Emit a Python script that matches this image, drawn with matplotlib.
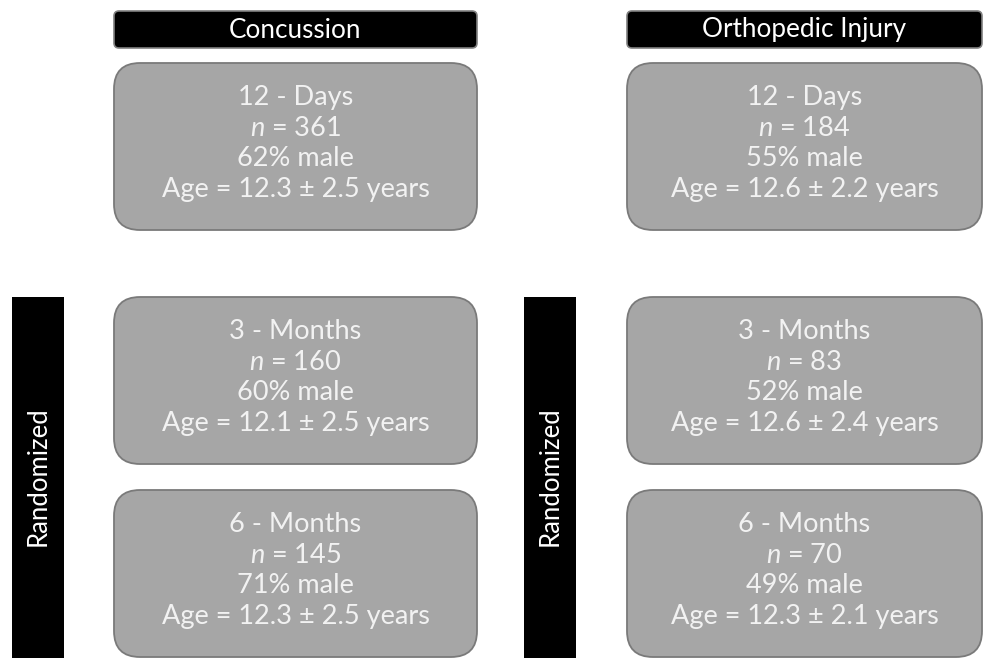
import matplotlib.pyplot as plt
from matplotlib.patches import FancyBboxPatch, Rectangle

plt.rcParams['font.family'] = ['Lato', 'DejaVu Sans']
plt.rcParams['mathtext.fontset'] = 'custom'
plt.rcParams['mathtext.it'] = 'Lato:italic'
plt.rcParams['mathtext.rm'] = 'Lato'

# study groups and follow-up data
groups = ['Concussion', 'Orthopedic Injury']
timepoints = ['12 - Days', '3 - Months', '6 - Months']
n_values = [[361, 160, 145], [184, 83, 70]]
pct_male = [[62, 60, 71], [55, 52, 49]]
age_mean = [[12.3, 12.1, 12.3], [12.6, 12.6, 12.3]]
age_sd = [[2.5, 2.5, 2.5], [2.2, 2.4, 2.1]]
side_label = 'Randomized'

fig = plt.figure(figsize=(9.83, 6.58), dpi=100)
ax = fig.add_axes([0, 0, 1, 1])
ax.set_xlim(0, 983)
ax.set_ylim(658, 0)
ax.axis('off')

col_x = [114, 627]
col_w = [363, 355]
box_tops = [63, 297, 490]
box_h = 167
bar_x = [12, 524]
txt_col = '#f2f2f2'

for g, gname in enumerate(groups):
    x0 = col_x[g]
    box_w = col_w[g]
    # header
    ax.add_patch(FancyBboxPatch((x0, 11), box_w, 37,
                                boxstyle='round,pad=0,rounding_size=5',
                                fc='black', ec='#808080', lw=1.2))
    ax.text(x0 + box_w / 2, 30, gname, color='white', fontsize=18.8,
            ha='center', va='center')
    # randomized bar
    ax.add_patch(Rectangle((bar_x[g], 297), 52, 361, fc='black', ec='none'))
    ax.text(bar_x[g] + 26, 476, side_label, color='white', fontsize=18.5,
            rotation=90, ha='center', va='center')
    for t, tname in enumerate(timepoints):
        top = box_tops[t]
        ax.add_patch(FancyBboxPatch((x0, top), box_w, box_h,
                                    boxstyle='round,pad=0,rounding_size=26',
                                    fc='#a6a6a6', ec='#7a7a7a', lw=1.3))
        lines = [tname,
                 r'$\it{n}$ = %d' % n_values[g][t],
                 '%d%% male' % pct_male[g][t],
                 'Age = %.1f \u00b1 %.1f years' % (age_mean[g][t], age_sd[g][t])]
        cy = top + box_h / 2 - 3
        for i, line in enumerate(lines):
            ax.text(x0 + box_w / 2, cy + (i - 1.5) * 30.8, line, color=txt_col,
                    fontsize=19.5, ha='center', va='center')

fig.savefig('out.png', dpi=100)
